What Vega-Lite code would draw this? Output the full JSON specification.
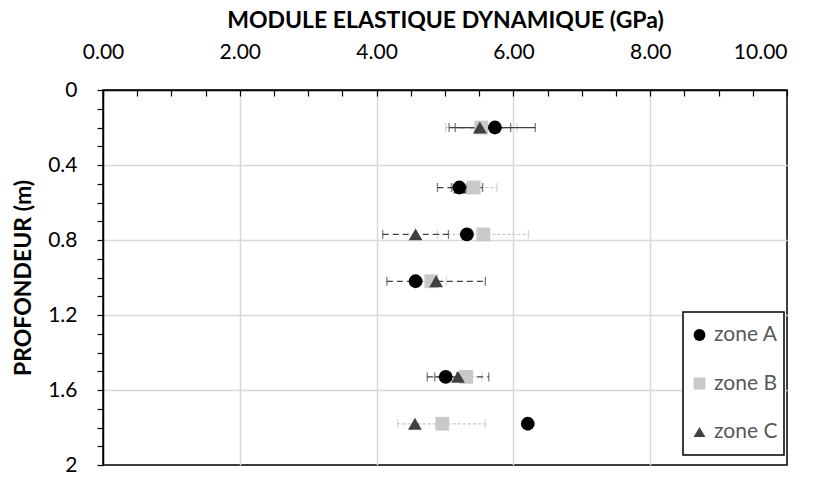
{
  "$schema": "https://vega.github.io/schema/vega-lite/v6.json",
  "autosize": "none",
  "width": 684,
  "height": 375,
  "padding": {"left": 103, "top": 90, "right": 35, "bottom": 12},
  "background": "white",
  "view": {"stroke": "#000", "strokeWidth": 1.5},
  "config": {
    "font": "Lato",
    "legend": {
      "orient": "none",
      "legendX": 580,
      "legendY": 222,
      "strokeColor": "#000",
      "strokeWidth": 1.5,
      "fillColor": "#fff",
      "padding": 6,
      "rowPadding": 14.5,
      "clipHeight": 34,
      "labelFont": "Lato",
      "labelFontSize": 21,
      "labelColor": "#595959",
      "labelOffset": 4,
      "symbolSize": 140,
      "symbolStrokeWidth": 0
    }
  },
  "resolve": {"axis": {"x": "independent", "y": "independent"}},
  "datasets": {
    "pts": [
      {"zone": "zone B", "depth": 0.2, "E": 5.53, "lo": 5.01, "hi": 6.05},
      {"zone": "zone B", "depth": 0.52, "E": 5.42, "lo": 5.08, "hi": 5.76},
      {"zone": "zone B", "depth": 0.77, "E": 5.56, "lo": 4.89, "hi": 6.22},
      {"zone": "zone B", "depth": 1.02, "E": 4.80, "lo": 4.58, "hi": 5.02},
      {"zone": "zone B", "depth": 1.53, "E": 5.31, "lo": 5.08, "hi": 5.54},
      {"zone": "zone B", "depth": 1.78, "E": 4.96, "lo": 4.31, "hi": 5.59},
      {"zone": "zone C", "depth": 0.2, "E": 5.51, "lo": 5.06, "hi": 5.96},
      {"zone": "zone C", "depth": 0.52, "E": 5.22, "lo": 4.89, "hi": 5.55},
      {"zone": "zone C", "depth": 0.77, "E": 4.57, "lo": 4.09, "hi": 5.05},
      {"zone": "zone C", "depth": 1.02, "E": 4.87, "lo": 4.15, "hi": 5.59},
      {"zone": "zone C", "depth": 1.53, "E": 5.19, "lo": 4.74, "hi": 5.64},
      {"zone": "zone C", "depth": 1.78, "E": 4.56, "lo": null, "hi": null},
      {"zone": "zone A", "depth": 0.2, "E": 5.73, "lo": 5.15, "hi": 6.32},
      {"zone": "zone A", "depth": 0.52, "E": 5.21, "lo": 5.10, "hi": 5.32},
      {"zone": "zone A", "depth": 0.77, "E": 5.32, "lo": null, "hi": null},
      {"zone": "zone A", "depth": 1.02, "E": 4.57, "lo": null, "hi": null},
      {"zone": "zone A", "depth": 1.53, "E": 5.01, "lo": 4.85, "hi": 5.17},
      {"zone": "zone A", "depth": 1.78, "E": 6.21, "lo": null, "hi": null}
    ]
  },
  "data": {"name": "pts"},
  "layer": [
    {
      "mark": {"type": "point", "opacity": 0},
      "encoding": {
        "x": {
          "field": "E", "type": "quantitative",
          "scale": {"domain": [0, 10], "nice": false, "zero": false},
          "axis": {
            "orient": "top", "values": [2, 4, 6, 8], "title": null,
            "labels": false, "ticks": false, "domain": false,
            "grid": true, "gridColor": "#d9d9d9", "gridWidth": 1.5
          }
        },
        "y": {
          "field": "depth", "type": "quantitative",
          "scale": {"domain": [0, 2], "reverse": true, "nice": false, "zero": false},
          "axis": {
            "orient": "left", "values": [0.4, 0.8, 1.2, 1.6], "title": null,
            "labels": false, "ticks": false, "domain": false,
            "grid": true, "gridColor": "#d9d9d9", "gridWidth": 1.5
          }
        }
      }
    },
    {
      "transform": [{"filter": "datum.zone == 'zone B' && datum.lo != null"}],
      "mark": {"type": "errorbar", "color": "#c8c8c8", "thickness": 1.25, "ticks": {"size": 9}, "rule": {"strokeDash": [3, 2]}},
      "encoding": {
        "x": {
          "field": "lo", "type": "quantitative",
          "axis": {
            "orient": "top", "values": [10], "title": null,
            "ticks": false, "domain": false, "grid": false,
            "format": ".2f", "labelAlign": "right",
            "labelFont": "Lato", "labelFontSize": 21, "labelColor": "#000", "labelPadding": 28,
            "labelFlush": false, "labelOverlap": false
          }
        },
        "x2": {"field": "hi"},
        "y": {"field": "depth", "type": "quantitative", "axis": null}
      }
    },
    {
      "transform": [{"filter": "datum.zone == 'zone C' && datum.lo != null"}],
      "mark": {"type": "errorbar", "color": "#404040", "thickness": 1.25, "ticks": {"size": 9}, "rule": {"strokeDash": [6, 4]}},
      "encoding": {
        "x": {"field": "lo", "type": "quantitative", "axis": null},
        "x2": {"field": "hi"},
        "y": {"field": "depth", "type": "quantitative", "axis": null}
      }
    },
    {
      "transform": [{"filter": "datum.zone == 'zone A' && datum.lo != null"}],
      "mark": {"type": "errorbar", "color": "#404040", "thickness": 1.25, "ticks": {"size": 9}},
      "encoding": {
        "x": {"field": "lo", "type": "quantitative", "axis": null},
        "x2": {"field": "hi"},
        "y": {"field": "depth", "type": "quantitative", "axis": null}
      }
    },
    {
      "mark": {"type": "point", "filled": true, "opacity": 1, "size": 190},
      "encoding": {
        "x": {
          "field": "E", "type": "quantitative",
          "title": "MODULE ELASTIQUE DYNAMIQUE (GPa)",
          "axis": {
            "orient": "top",
            "values": [0, 0.5, 1, 1.5, 2, 2.5, 3, 3.5, 4, 4.5, 5, 5.5, 6, 6.5, 7, 7.5, 8, 8.5, 9, 9.5, 10],
            "titleFont": "Lato", "titleFontSize": 23, "titleFontWeight": "bold", "titleColor": "#000", "titlePadding": 9,
            "labelExpr": "(datum.value % 2 == 0 && datum.value < 10) ? format(datum.value, '.2f') : ''",
            "labelFont": "Lato", "labelFontSize": 21, "labelColor": "#000", "labelPadding": 34,
            "labelOverlap": false, "labelFlush": false,
            "ticks": true, "tickSize": -6, "tickColor": "#000", "tickWidth": 1.2,
            "domainColor": "#000", "domainWidth": 1.5, "grid": false
          }
        },
        "y": {
          "field": "depth", "type": "quantitative",
          "title": "PROFONDEUR (m)",
          "axis": {
            "orient": "left",
            "values": [0, 0.1, 0.2, 0.3, 0.4, 0.5, 0.6, 0.7, 0.8, 0.9, 1, 1.1, 1.2, 1.3, 1.4, 1.5, 1.6, 1.7, 1.8, 1.9, 2],
            "titleFont": "Lato", "titleFontSize": 23, "titleFontWeight": "bold", "titleColor": "#000", "titlePadding": 12,
            "labelExpr": "indexof([0, 0.4, 0.8, 1.2, 1.6, 2], datum.value) >= 0 ? format(datum.value, '~g') : ''",
            "labelFont": "Lato", "labelFontSize": 21, "labelColor": "#000", "labelPadding": 20,
            "labelOverlap": false, "labelFlush": false,
            "ticks": true, "tickSize": 6, "tickColor": "#000", "tickWidth": 1.2,
            "domainColor": "#000", "domainWidth": 1.5, "grid": false
          }
        },
        "shape": {
          "field": "zone", "type": "nominal",
          "scale": {"domain": ["zone A", "zone B", "zone C"], "range": ["circle", "square", "triangle-up"]},
          "legend": {"title": null}
        },
        "color": {
          "field": "zone", "type": "nominal",
          "scale": {"domain": ["zone A", "zone B", "zone C"], "range": ["#000000", "#c9c9c9", "#404040"]},
          "legend": {"title": null}
        }
      }
    }
  ]
}
